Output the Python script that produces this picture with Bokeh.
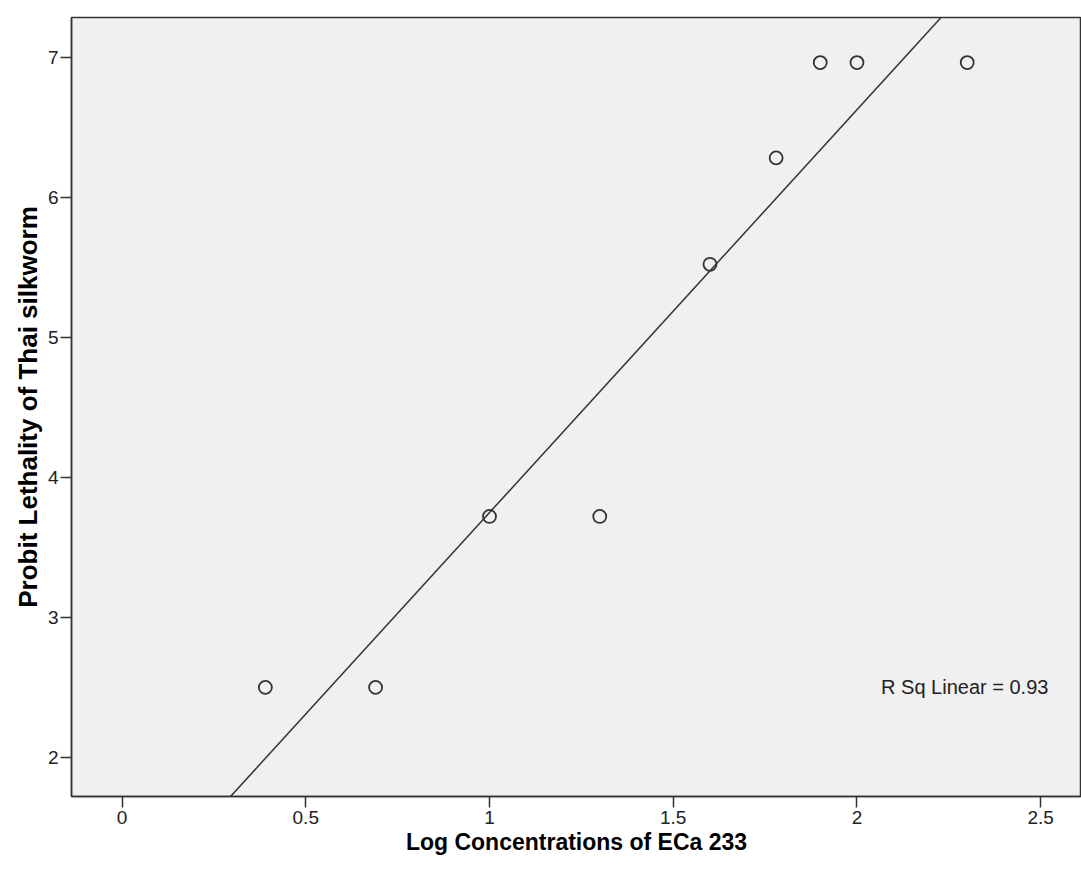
import numpy as np
from bokeh.plotting import figure
from bokeh.models import Range1d, FixedTicker, Label
from bokeh.embed import file_html
from bokeh.resources import INLINE

# Data
log_conc = [0.39, 0.69, 1.00, 1.30, 1.60, 1.78, 1.90, 2.00, 2.30]
probit = [2.50, 2.50, 3.72, 3.72, 5.52, 6.28, 6.96, 6.96, 6.96]
x_ticks = [0, 0.5, 1, 1.5, 2, 2.5]
y_ticks = [2, 3, 4, 5, 6, 7]
r_sq_text = "R Sq Linear = 0.93"

FONT = "Liberation Sans"
DARK = "#333333"

x_range = Range1d(-0.1375, 2.611)
y_range = Range1d(1.721, 7.282)

p = figure(width=1081, height=878, x_range=x_range, y_range=y_range,
           output_backend="svg", toolbar_location=None,
           min_border_left=71, min_border_right=0, min_border_top=17,
           min_border_bottom=82)
p.background_fill_color = "#F0F0F0"
p.border_fill_color = "white"
p.grid.visible = False
p.outline_line_color = DARK
p.outline_line_width = 1.5

for ax in (p.xaxis, p.yaxis):
    ax.axis_line_color = DARK
    ax.axis_line_width = 1.5
    ax.major_tick_line_color = DARK
    ax.major_tick_line_width = 1.5
    ax.major_tick_in = 0
    ax.major_tick_out = 11
    ax.minor_tick_line_color = None
    ax.major_label_text_font = FONT
    ax.major_label_text_font_size = "19px"
    ax.major_label_text_color = "#222222"
    ax.axis_label_text_font = FONT
    ax.axis_label_text_font_style = "bold"
    ax.axis_label_text_color = "black"

p.xaxis.axis_label_text_font_size = "23px"
p.yaxis.axis_label_text_font_size = "26px"
p.xaxis.ticker = FixedTicker(ticks=x_ticks)
p.yaxis.ticker = FixedTicker(ticks=y_ticks)
p.xaxis.major_label_overrides = {t: ("%g" % t) for t in x_ticks}
p.xaxis.axis_label = "Log Concentrations of ECa 233"
p.yaxis.axis_label = "Probit Lethality of Thai silkworm"
p.xaxis.major_label_standoff = 3
p.yaxis.major_label_standoff = 2
p.xaxis.axis_label_standoff = 2
p.yaxis.axis_label_standoff = 2

# Linear fit line
slope, intercept = np.polyfit(log_conc, probit, 1)
lx = [x_range.start, x_range.end]
ly = [intercept + slope * v for v in lx]
p.line(lx, ly, line_color=DARK, line_width=1.5)

p.scatter(log_conc, probit, marker="circle", size=13, fill_color=None,
          line_color=DARK, line_width=1.8)

p.add_layout(Label(x=2.521, y=2.5, text=r_sq_text, text_align="right",
                   text_baseline="middle", text_font=FONT,
                   text_font_size="20px", text_color="#222222"))

open("out.html", "w").write(file_html(p, INLINE))
